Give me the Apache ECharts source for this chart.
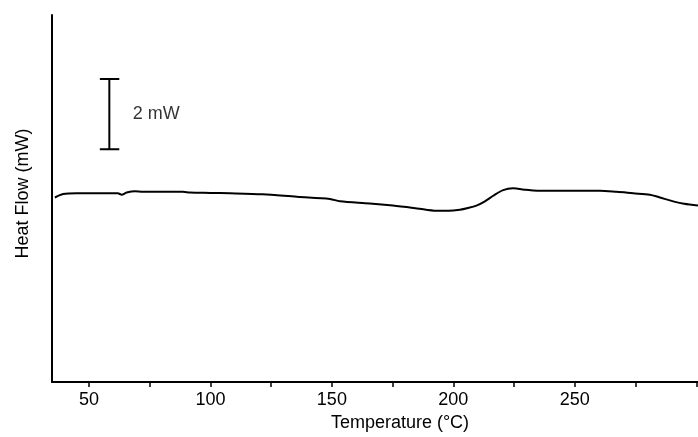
<!DOCTYPE html>
<html lang="en">
<head>
    <meta charset="utf-8"/>
    <title>DSC</title>
    <script src="https://cdn.jsdelivr.net/npm/echarts@6/dist/echarts.min.js"></script>
</head>
<body style="margin:0;background:#fff">
<div id="chart" style="width:698px;height:437px"></div>
<script type="text/javascript">
    // temperature (°C) and heat flow (mW, arbitrary offset)
    var temps = [36, 39.4, 45, 53.2, 61.9, 63.5, 65.5, 68.9, 72.2, 80, 88.7, 91.6, 100, 108, 121.6, 135.6, 149.2,
        153.3, 165.6, 175.1, 185, 193.1, 198, 202.7, 206, 209.5, 213, 216.4, 220.5, 224.6, 230, 237, 250, 260.3,
        267.2, 274, 280.9, 285, 290.5, 295, 300.7];
    var flow = [5.25, 5.35, 5.37, 5.37, 5.37, 5.33, 5.39, 5.43, 5.41, 5.41, 5.41, 5.39, 5.38, 5.37, 5.34, 5.27, 5.21,
        5.14, 5.08, 5.02, 4.94, 4.87, 4.87, 4.90, 4.95, 5.02, 5.14, 5.30, 5.46, 5.51, 5.47, 5.44, 5.44, 5.44,
        5.41, 5.37, 5.33, 5.25, 5.14, 5.07, 5.02];
    var tickValues = [50, 75, 100, 125, 150, 175, 200, 225, 250, 275, 300];
    var labelValues = [50, 100, 150, 200, 250];
    // scale bar: 2 mW
    var barT = 58.4, barCapL = 54.5, barCapR = 62.5, barLow = 6.62, barHigh = 8.62;

    var curve = [];
    for (var i = 0; i < temps.length; i++) {
        curve.push([temps[i], flow[i]]);
    }
    var bar = [[barCapL, barHigh], [barCapR, barHigh], [barT, barHigh], [barT, barLow], [barCapL, barLow], [barCapR, barLow]];

    var font = '"Liberation Sans", Arial, Helvetica, sans-serif';
    var myChart = echarts.init(document.getElementById('chart'));
    var option = {
        animation: false,
        grid: {left: 52, right: 0, top: 15, bottom: 53},
        xAxis: {
            type: 'value',
            min: 34.8,
            max: 300.7,
            name: 'Temperature (°C)',
            nameLocation: 'middle',
            nameGap: 30,
            nameTextStyle: {color: '#000', fontSize: 18, fontFamily: font, padding: [0, 0, 0, 50]},
            axisLine: {lineStyle: {color: '#000', width: 2}},
            axisTick: {show: true, customValues: tickValues, length: 5, lineStyle: {color: '#000', width: 1.5}},
            axisLabel: {customValues: labelValues, margin: 9, color: '#000', fontSize: 18, fontFamily: font},
            splitLine: {show: false}
        },
        yAxis: {
            type: 'value',
            min: 0,
            max: 10.44,
            name: 'Heat Flow (mW)',
            nameLocation: 'middle',
            nameGap: 20,
            nameTextStyle: {color: '#000', fontSize: 18, fontFamily: font, padding: [0, 0, 0, 10]},
            axisLine: {show: true, lineStyle: {color: '#000', width: 2}},
            axisTick: {show: false},
            axisLabel: {show: false},
            splitLine: {show: false}
        },
        series: [{
            type: 'line',
            data: curve,
            smooth: 0.3,
            symbol: 'none',
            lineStyle: {color: '#000', width: 2}
        }, {
            type: 'line',
            data: bar,
            symbol: 'none',
            lineStyle: {color: '#000', width: 2}
        }, {
            type: 'scatter',
            data: [[68, (barLow + barHigh) / 2]],
            symbolSize: 0,
            silent: true,
            label: {show: true, position: 'right', distance: 0, formatter: '2 mW', color: '#000', fontSize: 18, fontFamily: font}
        }]
    };
    myChart.setOption(option);
</script>
</body>
</html>
